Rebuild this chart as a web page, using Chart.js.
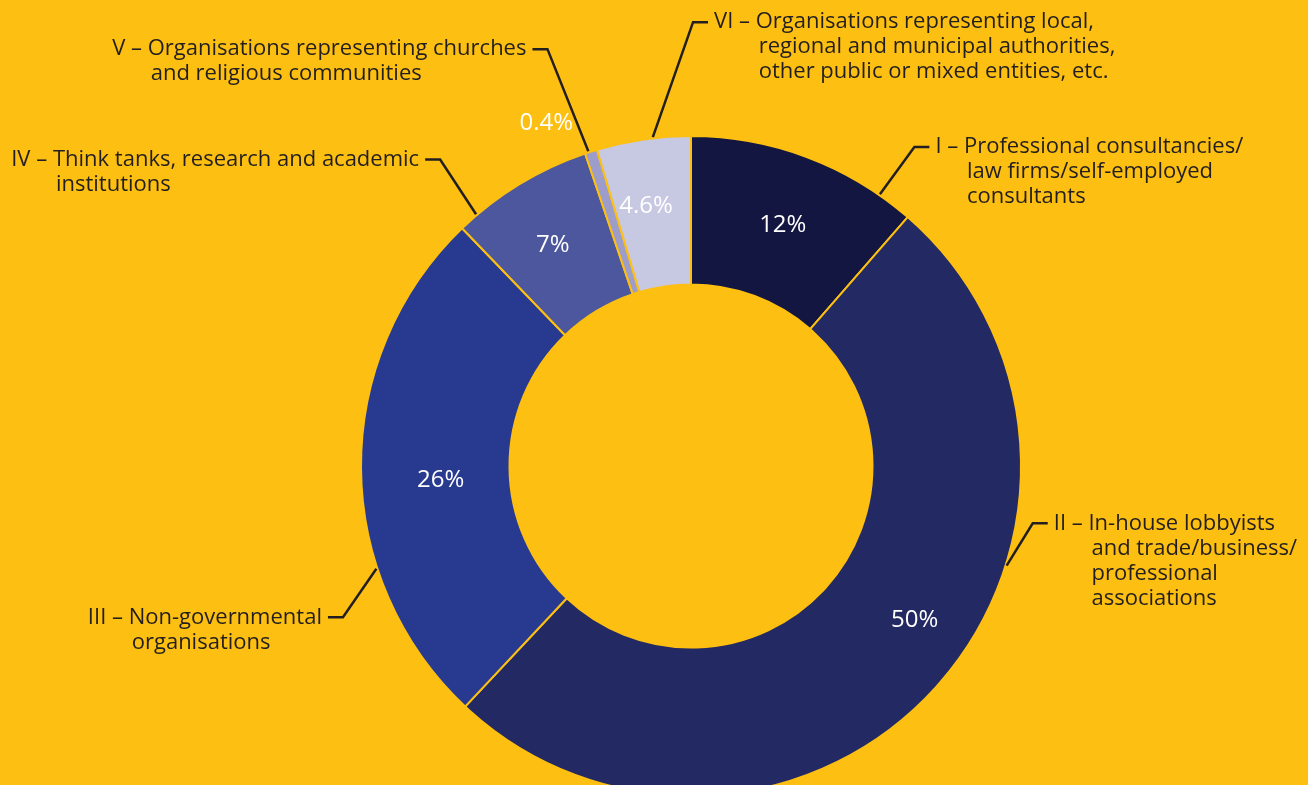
<!DOCTYPE html>
<html>
<head>
<meta charset="utf-8">
<title>Registrants by section</title>
<script src="https://cdn.jsdelivr.net/npm/chart.js@4.4.1/dist/chart.umd.min.js"></script>
<style>
  html, body { margin: 0; padding: 0; background: #fdbf11; }
  #wrap { width: 1308px; height: 785px; overflow: hidden; }
  canvas { display: block; }
</style>
</head>
<body>
<div id="wrap"><canvas id="sections" width="1308" height="932"></canvas></div>
<script>
// data, clockwise from the top
const sectionCodes = ["I", "II", "III", "IV", "V", "VI"];
const sectionNames = [
  ["Professional consultancies/", "law firms/self-employed", "consultants"],
  ["In-house lobbyists", "and trade/business/", "professional", "associations"],
  ["Non-governmental", "organisations"],
  ["Think tanks, research and academic", "institutions"],
  ["Organisations representing churches", "and religious communities"],
  ["Organisations representing local,", "regional and municipal authorities,", "other public or mixed entities, etc."],
];
// slice sizes as drawn (the printed labels are rounded)
const shares = [11.4, 50.6, 25.8, 7.0, 0.6, 4.6];
const shareLabels = ["12%", "50%", "26%", "7%", "0.4%", "4.6%"];
const sliceColors = ["#131640", "#232962", "#283a8f", "#4c579e", "#9d9dcc", "#c7c8e2"];

const YELLOW = "#fdbf11";
const INK = "#231f20";

// where the callouts sit, as a fraction along each arc and of the outer radius
const callouts = [
  { start: 0.848, elbow: 0.853, elbowR: 1.18, side: 1 },
  { start: 0.365, elbow: 0.321, elbowR: 1.05, side: 1 },
  { start: 0.309, elbow: 0.251, elbowR: 1.15, side: -1 },
  { start: 0.136, elbow: 0.183, elbowR: 1.2, side: -1 },
  { start: 0.3, elbow: -0.13, elbowR: 1.336, side: -1 },
  { start: 0.6, elbow: 1.016, elbowR: 1.345, side: 1 },
];
const valueSpots = [
  { at: 0.509, r: 0.78 },
  { at: 0.459, r: 0.824 },
  { at: 0.469, r: 0.76 },
  { at: 0.473, r: 0.79 },
  { at: -1.94, r: 1.127 },
  { at: 0.408, r: 0.8 },
];

function pointOn(arc, frac, r) {
  const a = arc.startAngle + frac * (arc.endAngle - arc.startAngle);
  return { x: arc.x + r * Math.cos(a), y: arc.y + r * Math.sin(a) };
}

const calloutPlugin = {
  id: "callouts",
  afterDatasetsDraw(chart) {
    const ctx = chart.ctx;
    const arcs = chart.getDatasetMeta(0).data;
    ctx.save();
    arcs.forEach((el, i) => {
      const arc = el.getProps(["x", "y", "startAngle", "endAngle", "innerRadius", "outerRadius"], true);
      const c = callouts[i];

      // leader line
      const p0 = pointOn(arc, c.start, arc.outerRadius + 1);
      const p1 = pointOn(arc, c.elbow, arc.outerRadius * c.elbowR);
      const hx = p1.x + c.side * 15;
      ctx.strokeStyle = INK;
      ctx.lineWidth = 2.5;
      ctx.lineJoin = "miter";
      ctx.beginPath();
      ctx.moveTo(p0.x, p0.y);
      ctx.lineTo(p1.x, p1.y);
      ctx.lineTo(hx, p1.y);
      ctx.stroke();

      // category text with hanging indent
      ctx.font = '22px "Open Sans"';
      ctx.fillStyle = INK;
      ctx.textBaseline = "middle";
      ctx.textAlign = "left";
      const prefix = sectionCodes[i] + " \u2013 ";
      const first = prefix + sectionNames[i][0];
      const indent = ctx.measureText(prefix).width + 3;
      const x0 = c.side > 0 ? hx + 6 : hx - 6 - ctx.measureText(first).width;
      sectionNames[i].forEach((line, k) => {
        if (k === 0) ctx.fillText(first, x0, p1.y);
        else ctx.fillText(line, x0 + indent, p1.y + k * 25);
      });

      // value label
      const v = valueSpots[i];
      const q = pointOn(arc, v.at, arc.outerRadius * v.r);
      ctx.font = '24px "Open Sans"';
      ctx.fillStyle = "#ffffff";
      ctx.textAlign = "center";
      ctx.fillText(shareLabels[i], q.x, q.y);
    });
    ctx.restore();
  },
};

new Chart(document.getElementById("sections"), {
  type: "doughnut",
  data: {
    labels: sectionCodes,
    datasets: [
      {
        data: shares,
        backgroundColor: sliceColors,
        borderColor: YELLOW,
        borderWidth: 2,
        hoverOffset: 0,
      },
    ],
  },
  options: {
    responsive: false,
    animation: false,
    cutout: "55%",
    layout: { padding: { top: 135, bottom: 135, left: 360, right: 286 } },
    plugins: {
      legend: { display: false },
      tooltip: { enabled: false },
    },
  },
  plugins: [calloutPlugin],
});
</script>
</body>
</html>
